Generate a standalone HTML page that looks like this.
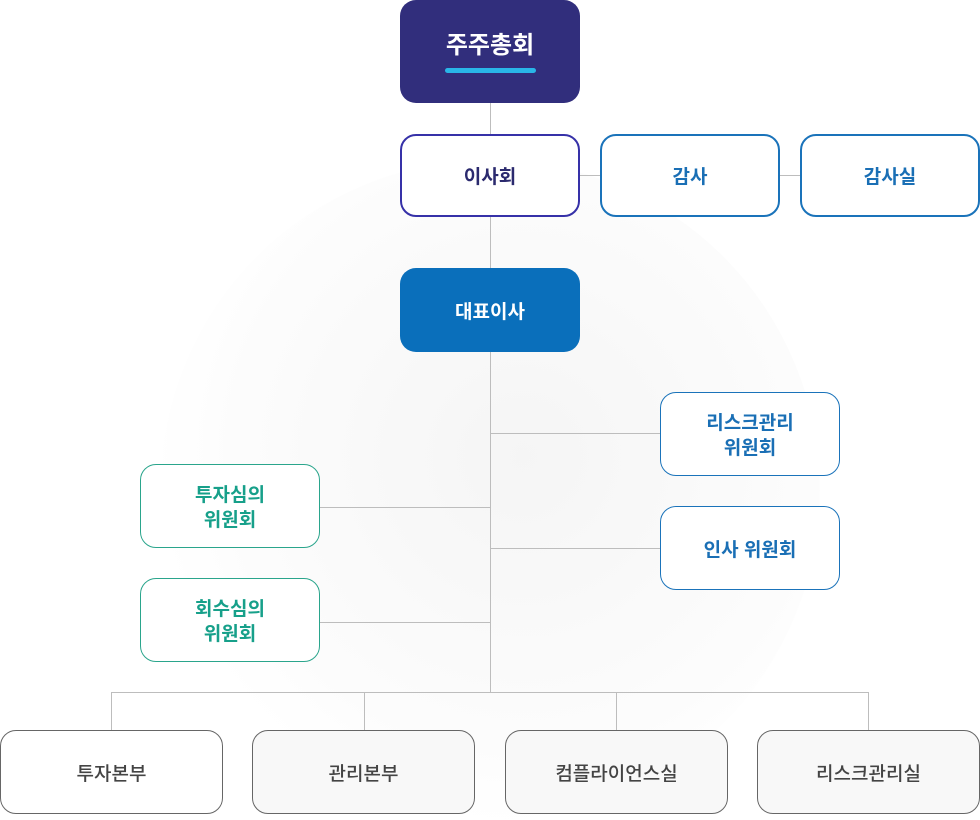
<!DOCTYPE html>
<html><head><meta charset="utf-8"><style>
body{margin:0;width:980px;height:818px;background:#fff;position:relative;overflow:hidden;font-family:"Liberation Sans","Noto Sans CJK KR",sans-serif}
.bg{position:absolute;left:160px;top:160px;width:660px;height:660px;border-radius:50%;background:radial-gradient(circle at 55% 45%,rgba(210,210,210,0.22),rgba(225,225,225,0.1) 55%,rgba(255,255,255,0) 72%)}
.l{position:absolute;background:#bdbdbd}
.b{position:absolute;box-sizing:border-box;border-radius:16px;display:flex;align-items:center;justify-content:center;text-align:center;font-weight:bold;font-size:19px;line-height:25px;background:#fff;padding-top:4px}
.bt{border:1px solid #666;color:#444;font-weight:500;font-size:19px;background:#f8f8f8}
</style></head><body>
<div class="bg"></div>
<div class="l" style="left:490px;top:103px;width:1px;height:589px"></div>
<div class="l" style="left:580px;top:175px;width:20px;height:1px"></div>
<div class="l" style="left:779px;top:175px;width:21px;height:1px"></div>
<div class="l" style="left:490px;top:433px;width:170px;height:1px"></div>
<div class="l" style="left:490px;top:548px;width:170px;height:1px"></div>
<div class="l" style="left:319px;top:507px;width:171px;height:1px"></div>
<div class="l" style="left:319px;top:622px;width:171px;height:1px"></div>
<div class="l" style="left:111px;top:692px;width:758px;height:1px"></div>
<div class="l" style="left:111px;top:692px;width:1px;height:38px"></div>
<div class="l" style="left:364px;top:692px;width:1px;height:38px"></div>
<div class="l" style="left:616px;top:692px;width:1px;height:38px"></div>
<div class="l" style="left:868px;top:692px;width:1px;height:38px"></div>

<div class="b" style="left:400px;top:0;width:180px;height:103px;background:#312e7c;color:#fff;font-size:24px;flex-direction:column">
<div style="margin-top:-2px">주주총회</div><div style="width:91px;height:5px;border-radius:3px;background:#29b6e8;margin-top:10px"></div></div>
<div class="b" style="left:400px;top:134px;width:180px;height:83px;border:2px solid #3631a8;color:#2b2a6e">이사회</div>
<div class="b" style="left:600px;top:134px;width:180px;height:83px;border:2px solid #1a73ba;color:#1a6fb5">감사</div>
<div class="b" style="left:800px;top:134px;width:180px;height:83px;border:2px solid #1a73ba;color:#1a6fb5">감사실</div>
<div class="b" style="left:400px;top:268px;width:180px;height:84px;background:#0a6fbb;color:#fff">대표이사</div>
<div class="b" style="left:660px;top:392px;width:180px;height:84px;border:1px solid #1a73ba;color:#1a6fb5">리스크관리<br>위원회</div>
<div class="b" style="left:660px;top:506px;width:180px;height:84px;border:1px solid #1a73ba;color:#1a6fb5">인사 위원회</div>
<div class="b" style="left:140px;top:464px;width:180px;height:84px;border:1px solid #2aa58c;color:#17a08a">투자심의<br>위원회</div>
<div class="b" style="left:140px;top:578px;width:180px;height:84px;border:1px solid #2aa58c;color:#17a08a">회수심의<br>위원회</div>
<div class="b bt" style="left:0;top:730px;width:223px;height:84px;background:#fff">투자본부</div>
<div class="b bt" style="left:252px;top:730px;width:223px;height:84px">관리본부</div>
<div class="b bt" style="left:505px;top:730px;width:223px;height:84px">컴플라이언스실</div>
<div class="b bt" style="left:757px;top:730px;width:223px;height:84px">리스크관리실</div>
</body></html>
